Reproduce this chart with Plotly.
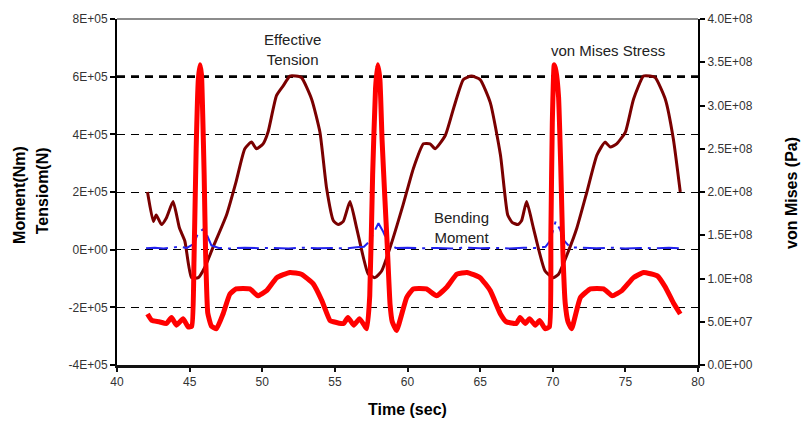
import plotly.graph_objects as go

# ---- Effective tension (N), left axis ----
tension_time = [42.1, 42.5, 42.7, 43.06, 43.4, 43.86, 44.3, 44.67, 45.13, 45.6, 46.04, 46.6,
                47.54, 48.2, 48.8, 49.26, 49.6, 50.06, 50.4, 50.98, 51.44, 51.9, 52.3, 52.7,
                53.4, 53.97, 54.43, 54.9, 55.23, 55.58, 56.04, 56.5, 57.3, 57.76, 58.22, 58.8,
                59.7, 60.4, 61.1, 61.55, 61.9, 62.6, 63.16, 63.85, 64.4, 65.0, 65.7, 66.4,
                66.9, 67.2, 67.6, 67.85, 68.2, 68.67, 69.47, 70.05, 70.4, 71.08, 71.66, 72.35,
                73.04, 73.6, 73.96, 74.4, 75.0, 75.56, 76.25, 76.7, 77.06, 77.75, 78.3, 78.78]
tension_val = [2.00e5, 0.98e5, 1.20e5, 0.87e5, 1.10e5, 1.67e5, 0.75e5, 0.30e5, -0.97e5, -0.97e5, -0.62e5, 0.07e5,
               1.20e5, 2.36e5, 3.50e5, 3.73e5, 3.50e5, 3.67e5, 4.08e5, 5.34e5, 5.68e5, 6.02e5, 6.02e5, 5.97e5,
               5.22e5, 4.08e5, 2.13e5, 1.00e5, 0.87e5, 0.98e5, 1.67e5, 0.75e5, -0.85e5, -0.97e5, -0.74e5, 0.07e5,
               1.56e5, 2.81e5, 3.67e5, 3.67e5, 3.50e5, 3.96e5, 4.88e5, 5.90e5, 6.02e5, 5.90e5, 5.10e5, 3.28e5,
               1.20e5, 0.95e5, 0.87e5, 1.00e5, 1.67e5, 0.75e5, -0.74e5, -0.97e5, -0.85e5, -0.05e5, 0.75e5, 2.00e5,
               3.28e5, 3.73e5, 3.56e5, 3.67e5, 4.08e5, 5.22e5, 6.02e5, 6.02e5, 5.97e5, 5.22e5, 3.85e5, 2.00e5]

# ---- Bending moment (Nm), left axis ----
moment_time = [42.0, 42.6, 43.2, 43.8, 44.3, 44.8, 45.3, 45.6, 45.9, 46.2, 46.5, 47.0, 47.8,
               48.8, 49.8, 50.8, 51.8, 52.8, 53.8, 54.8, 55.8, 56.5, 57.0, 57.4, 57.7, 58.0,
               58.3, 58.7, 59.2, 60.0, 61.0, 62.0, 63.0, 64.0, 65.0, 66.0, 67.0, 68.0, 68.8,
               69.5, 69.8, 70.0, 70.2, 70.5, 70.8, 71.2, 72.0, 73.0, 74.0, 75.0, 76.0, 77.0,
               78.0, 78.8]
moment_val = [5e3, 7e3, 4e3, 6e3, 1.0e4, 6e3, 2.0e4, 6.0e4, 7.0e4, 5.0e4, 1.5e4, 6e3, 4e3,
              7e3, 5e3, 6e3, 4e3, 7e3, 5e3, 6e3, 4e3, 8e3, 1.0e4, 3.0e4, 6.0e4, 9.2e4,
              6.5e4, 2.0e4, 6e3, 7e3, 5e3, 6e3, 4e3, 7e3, 5e3, 6e3, 4e3, 7e3, 6e3,
              1.0e4, 3.0e4, 6.0e4, 9.8e4, 7.0e4, 3.0e4, 8e3, 6e3, 5e3, 7e3, 4e3, 6e3, 5e3,
              7e3, 5e3]

# ---- von Mises stress (Pa), right axis ----
mises_time = [42.1, 42.4, 42.9, 43.4, 43.75, 44.1, 44.55, 44.9, 45.15, 45.3, 45.45, 45.6, 45.72,
              45.82, 45.9, 46.0, 46.1, 46.25, 46.5, 46.85, 47.3, 47.77, 48.2, 49.15, 49.7, 50.3,
              51.0, 51.9, 52.7, 53.5, 54.1, 54.66, 54.9, 55.6, 55.9, 56.3, 56.7, 57.2, 57.4,
              57.6, 57.8, 57.95, 58.1, 58.25, 58.45, 58.6, 58.8, 58.95, 59.25, 59.94, 60.4, 61.3,
              62.0, 62.7, 63.4, 64.1, 65.0, 65.7, 66.4, 66.8, 67.5, 67.75, 68.1, 68.4, 68.8,
              69.1, 69.47, 69.77, 69.87, 69.97, 70.1, 70.22, 70.4, 70.55, 70.7, 70.86, 71.05,
              71.3, 71.9, 72.6, 73.5, 74.1, 74.76, 75.56, 76.25, 77.2, 77.75, 78.3, 78.78]
mises_val = [5.9e7, 5.15e7, 5.0e7, 4.8e7, 5.5e7, 4.6e7, 5.35e7, 4.4e7, 4.5e7, 1.2e8, 2.5e8, 3.3e8, 3.47e8,
             3.35e8, 2.9e8, 2.2e8, 1.3e8, 6.0e7, 4.5e7, 4.2e7, 5.9e7, 8.2e7, 8.8e7, 8.8e7, 8.0e7, 8.6e7,
             1.01e8, 1.07e8, 1.05e8, 9.4e7, 7.45e7, 5.15e7, 5.0e7, 4.8e7, 5.5e7, 4.6e7, 5.35e7, 4.2e7, 8.0e7,
             2.2e8, 3.2e8, 3.47e8, 3.3e8, 2.6e8, 1.9e8, 1.4e8, 7.0e7, 5.0e7, 4.0e7, 7.8e7, 8.8e7, 8.8e7,
             8.0e7, 9.0e7, 1.05e8, 1.07e8, 1.01e8, 8.6e7, 5.9e7, 5.0e7, 4.8e7, 5.5e7, 4.8e7, 5.35e7, 4.6e7,
             5.15e7, 4.2e7, 4.4e7, 1.5e8, 2.8e8, 3.47e8, 3.4e8, 3.1e8, 2.3e8, 1.3e8, 7.1e7, 5.0e7,
             4.2e7, 7.8e7, 8.8e7, 8.8e7, 8.0e7, 8.6e7, 1.01e8, 1.07e8, 1.03e8, 9.0e7, 7.2e7, 5.9e7]

# ---- axis ticks ----
x_ticks = [40, 45, 50, 55, 60, 65, 70, 75, 80]
left_tickvals = [-4e5, -2e5, 0, 2e5, 4e5, 6e5, 8e5]
left_ticktext = ["-4E+05", "-2E+05", "0E+00", "2E+05", "4E+05", "6E+05", "8E+05"]
right_tickvals = [0, 5e7, 1e8, 1.5e8, 2e8, 2.5e8, 3e8, 3.5e8, 4e8]
right_ticktext = ["0.0E+00", "5.0E+07", "1.0E+08", "1.5E+08", "2.0E+08",
                  "2.5E+08", "3.0E+08", "3.5E+08", "4.0E+08"]
limit_level = 6e5

FONT = "Liberation Sans, Arial, sans-serif"
TICK_FONT = dict(family=FONT, size=12, color="#333333")
GRID_DASH = "8px,6px"

fig = go.Figure()
fig.add_trace(go.Scatter(x=tension_time, y=tension_val, mode="lines", name="Effective Tension",
                         line=dict(color="#7A0000", width=3, shape="spline", smoothing=0.5)))
fig.add_trace(go.Scatter(x=moment_time, y=moment_val, mode="lines", name="Bending Moment",
                         line=dict(color="#2222EE", width=2, dash="22px,6px,3px,6px")))
fig.add_trace(go.Scatter(x=mises_time, y=mises_val, mode="lines", name="von Mises Stress",
                         yaxis="y2", line=dict(color="#FF0000", width=5, shape="spline", smoothing=0.4)))

# heavier dashed reference line at 6E+05
fig.add_shape(type="line", xref="paper", yref="y", x0=0, x1=1, y0=limit_level, y1=limit_level,
              line=dict(color="black", width=2.6, dash=GRID_DASH), layer="below")
# grey frame line along the top of the plot area
fig.add_shape(type="line", xref="paper", yref="paper", x0=0, x1=1, y0=1, y1=1,
              line=dict(color="#8c8c8c", width=2))

annot_font = dict(family=FONT, size=15, color="#222222")
fig.add_annotation(x=52.1, y=6.94e5, xref="x", yref="y", text="Effective<br>Tension",
                   showarrow=False, font=annot_font)
fig.add_annotation(x=63.75, y=0.76e5, xref="x", yref="y", text="Bending<br>Moment",
                   showarrow=False, font=annot_font)
fig.add_annotation(x=73.8, y=6.9e5, xref="x", yref="y", text="von Mises Stress",
                   showarrow=False, font=annot_font)

title_font = dict(family=FONT, size=16, color="black")
for txt, xp, yp, ang in [("<b>Moment(Nm)</b>", -0.169, 0.491, -90),
                         ("<b>Tensiom(N)</b>", -0.128, 0.504, -90),
                         ("<b>von Mises (Pa)</b>", 1.160, 0.497, -90),
                         ("<b>Time (sec)</b>", 0.5, -0.129, 0)]:
    fig.add_annotation(x=xp, y=yp, xref="paper", yref="paper", text=txt, textangle=ang,
                       xanchor="center", yanchor="middle", showarrow=False, font=title_font)

fig.update_layout(
    width=803, height=422,
    margin=dict(l=117, r=105, t=16, b=57),
    paper_bgcolor="white", plot_bgcolor="white",
    showlegend=False,
    xaxis=dict(range=[40, 80], tickvals=x_ticks, showgrid=False, zeroline=False,
               showline=True, linecolor="#111111", linewidth=2.5,
               ticks="outside", ticklen=4, tickwidth=1.5, tickcolor="#111111",
               tickfont=TICK_FONT),
    yaxis=dict(range=[-4e5, 8e5], tickvals=left_tickvals, ticktext=left_ticktext,
               showgrid=True, gridcolor="black", gridwidth=1.2, griddash=GRID_DASH,
               zeroline=False, showline=True, linecolor="black", linewidth=2,
               ticks="outside", ticklen=5, tickwidth=1.5, tickcolor="black",
               tickfont=TICK_FONT),
    yaxis2=dict(range=[0, 4e8], tickvals=right_tickvals, ticktext=right_ticktext,
                overlaying="y", side="right", showgrid=False, zeroline=False,
                showline=True, linecolor="black", linewidth=2,
                ticks="outside", ticklen=5, tickwidth=1.5, tickcolor="black",
                tickfont=TICK_FONT),
)

fig.write_html("out.html")
